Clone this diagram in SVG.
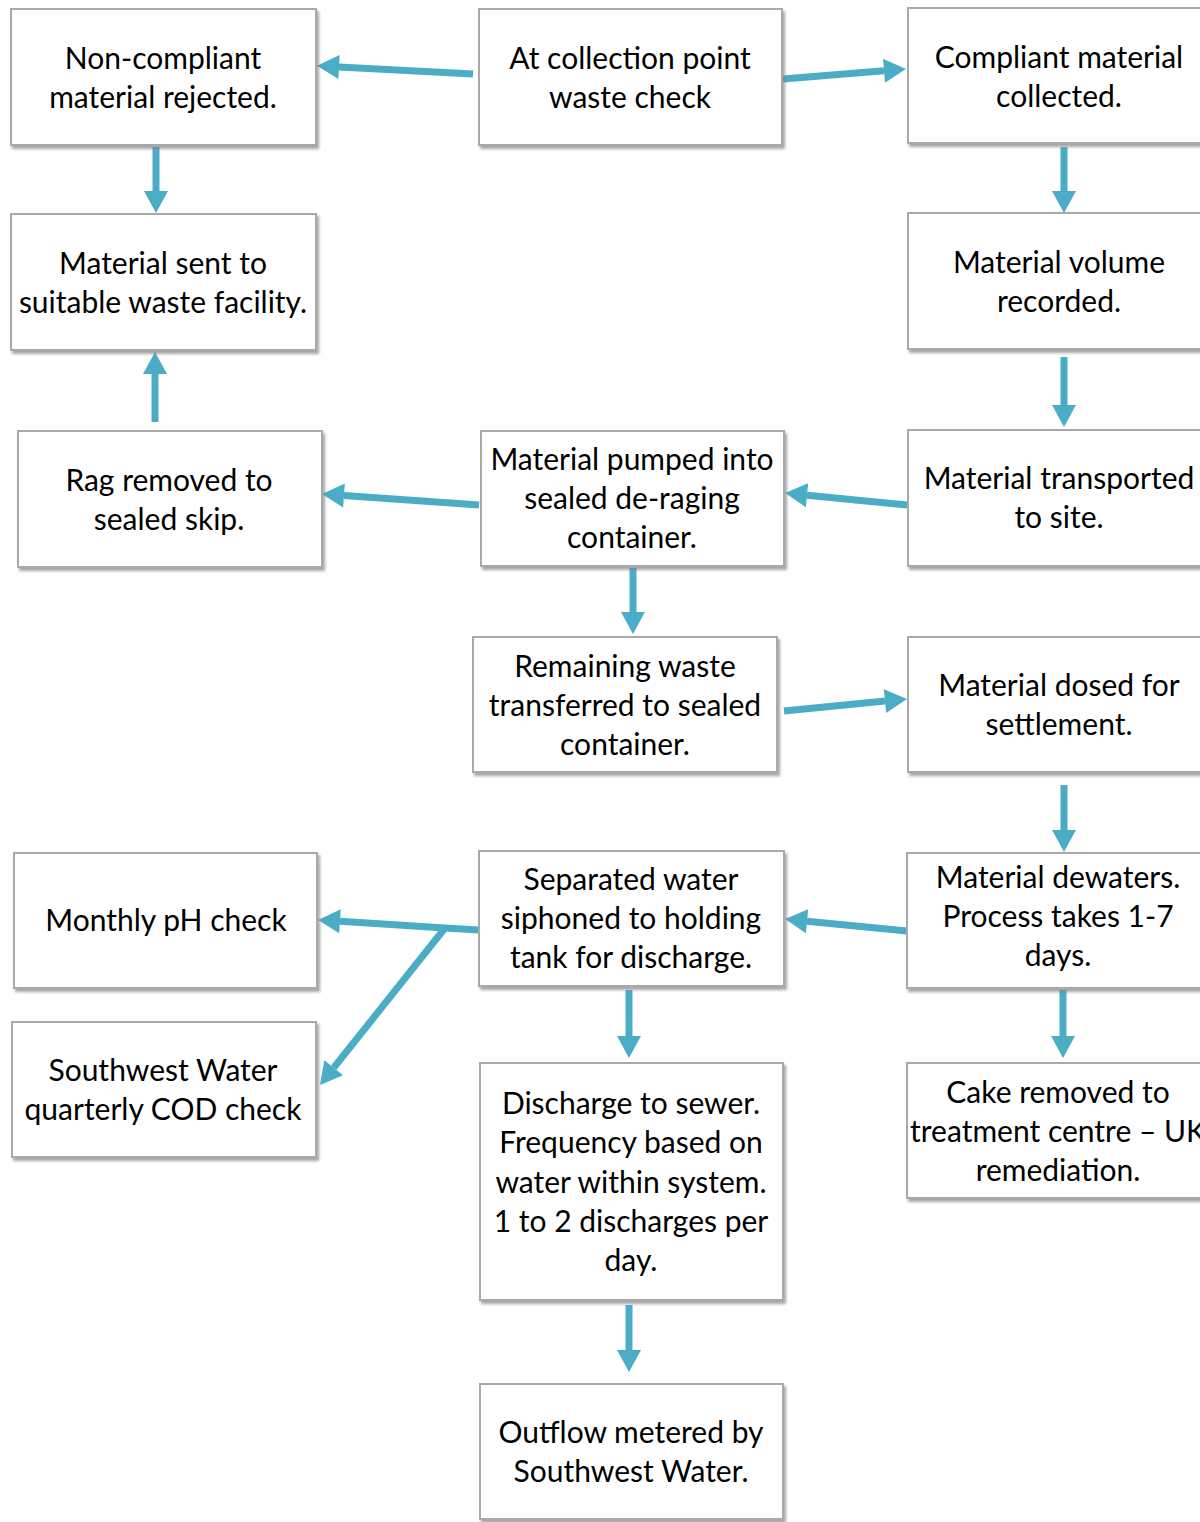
<svg xmlns="http://www.w3.org/2000/svg" width="1200" height="1522" viewBox="0 0 1200 1522">
<style>
.box{fill:#ffffff;stroke:#a9a9a9;stroke-width:2;filter:url(#sh);}
.t{font-family:Lato,"Open Sans",sans-serif;font-size:30px;fill:#000;text-anchor:middle;}
.c{stroke:#4bacc6;stroke-width:7;fill:none;marker-end:url(#ah);}
</style>
<defs>
<filter id="sh" x="-5%" y="-5%" width="115%" height="120%">
<feDropShadow dx="2" dy="3" stdDeviation="1.5" flood-color="#7f7f7f" flood-opacity="0.7"/>
</filter>
<marker id="ah" markerUnits="userSpaceOnUse" markerWidth="22" markerHeight="24" refX="0" refY="12" orient="auto" overflow="visible">
<path d="M0,0 L22,12 L0,24 z" fill="#4bacc6"/>
</marker>
</defs>
<rect width="1200" height="1522" fill="#ffffff"/>

<g id="connectors">
<line class="c" x1="473" y1="74" x2="339" y2="67"/>
<line class="c" x1="783" y1="79" x2="884" y2="70.8"/>
<line class="c" x1="156" y1="147" x2="156" y2="191"/>
<line class="c" x1="1064" y1="147" x2="1064" y2="191"/>
<line class="c" x1="1064" y1="357" x2="1064" y2="405"/>
<line class="c" x1="155" y1="422" x2="155" y2="374"/>
<line class="c" x1="479" y1="505" x2="344" y2="495.5"/>
<line class="c" x1="907" y1="505" x2="807" y2="495.2"/>
<line class="c" x1="633" y1="568" x2="633" y2="612"/>
<line class="c" x1="784" y1="711" x2="885" y2="701.1"/>
<line class="c" x1="1064" y1="785" x2="1064" y2="830"/>
<line class="c" x1="907" y1="931" x2="807" y2="921.2"/>
<path class="c" d="M479,930 L445,928 L340,921.3"/>
<line class="c" x1="445" y1="928" x2="333.7" y2="1067.8"/>
<line class="c" x1="629" y1="990" x2="629" y2="1036"/>
<line class="c" x1="1063" y1="990" x2="1063" y2="1036"/>
<line class="c" x1="629" y1="1305" x2="629" y2="1350"/>
</g>

<g id="n-rejected">
<rect class="box" x="11" y="9" width="305" height="136"/>
<text class="t" x="163" y="69">Non-compliant</text>
<text class="t" x="163" y="108">material rejected.</text>
</g>
<g id="n-check">
<rect class="box" x="479" y="9" width="303" height="136"/>
<text class="t" x="630" y="69">At collection point</text>
<text class="t" x="630" y="108">waste check</text>
</g>
<g id="n-collected">
<rect class="box" x="908" y="8" width="303" height="135"/>
<text class="t" x="1059" y="68">Compliant material</text>
<text class="t" x="1059" y="107">collected.</text>
</g>
<g id="n-facility">
<rect class="box" x="11" y="214" width="305" height="136"/>
<text class="t" x="163" y="274">Material sent to</text>
<text class="t" x="163" y="313">suitable waste facility.</text>
</g>
<g id="n-volume">
<rect class="box" x="908" y="213" width="303" height="136"/>
<text class="t" x="1059" y="273">Material volume</text>
<text class="t" x="1059" y="312">recorded.</text>
</g>
<g id="n-rag">
<rect class="box" x="18" y="431" width="304" height="136"/>
<text class="t" x="169" y="491">Rag removed to</text>
<text class="t" x="169" y="530">sealed skip.</text>
</g>
<g id="n-pumped">
<rect class="box" x="481" y="431" width="303" height="135"/>
<text class="t" x="632" y="470">Material pumped into</text>
<text class="t" x="632" y="509">sealed de-raging</text>
<text class="t" x="632" y="548">container.</text>
</g>
<g id="n-transported">
<rect class="box" x="908" y="430" width="303" height="136"/>
<text class="t" x="1059" y="489">Material transported</text>
<text class="t" x="1059" y="528">to site.</text>
</g>
<g id="n-remaining">
<rect class="box" x="473" y="637" width="304" height="135"/>
<text class="t" x="625" y="677">Remaining waste</text>
<text class="t" x="625" y="716">transferred to sealed</text>
<text class="t" x="625" y="755">container.</text>
</g>
<g id="n-dosed">
<rect class="box" x="908" y="637" width="303" height="135"/>
<text class="t" x="1059" y="696">Material dosed for</text>
<text class="t" x="1059" y="735">settlement.</text>
</g>
<g id="n-ph">
<rect class="box" x="14" y="853" width="303" height="135"/>
<text class="t" x="166" y="931">Monthly pH check</text>
</g>
<g id="n-separated">
<rect class="box" x="479" y="851" width="305" height="135"/>
<text class="t" x="631" y="890">Separated water</text>
<text class="t" x="631" y="929">siphoned to holding</text>
<text class="t" x="631" y="968">tank for discharge.</text>
</g>
<g id="n-dewaters">
<rect class="box" x="907" y="853" width="304" height="135"/>
<text class="t" x="1058" y="888">Material dewaters.</text>
<text class="t" x="1058" y="927">Process takes 1-7</text>
<text class="t" x="1058" y="966">days.</text>
</g>
<g id="n-cod">
<rect class="box" x="12" y="1022" width="304" height="135"/>
<text class="t" x="163" y="1081">Southwest Water</text>
<text class="t" x="163" y="1120">quarterly COD check</text>
</g>
<g id="n-discharge">
<rect class="box" x="480" y="1063" width="303" height="237"/>
<text class="t" x="631" y="1114">Discharge to sewer.</text>
<text class="t" x="631" y="1153">Frequency based on</text>
<text class="t" x="631" y="1193">water within system.</text>
<text class="t" x="631" y="1232">1 to 2 discharges per</text>
<text class="t" x="631" y="1271">day.</text>
</g>
<g id="n-cake">
<rect class="box" x="907" y="1063" width="304" height="135"/>
<text class="t" x="1058" y="1103">Cake removed to</text>
<text class="t" x="1058" y="1142">treatment centre – UK</text>
<text class="t" x="1058" y="1181">remediation.</text>
</g>
<g id="n-outflow">
<rect class="box" x="480" y="1384" width="303" height="135"/>
<text class="t" x="631" y="1443">Outflow metered by</text>
<text class="t" x="631" y="1482">Southwest Water.</text>
</g>
</svg>
